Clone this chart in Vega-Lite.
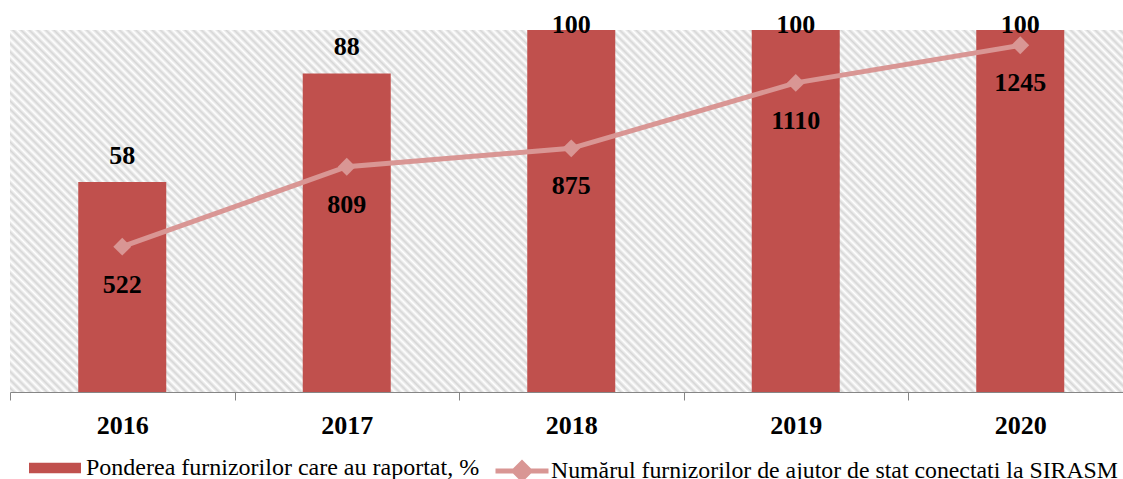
{
  "$schema": "https://vega.github.io/schema/vega-lite/v6.json",
  "width": 1122.5,
  "height": 362,
  "autosize": {"type": "none"},
  "padding": {"left": 10, "top": 30, "right": 0, "bottom": 87},
  "background": "white",
  "config": {"view": {"stroke": null, "fill": {"gradient": "linear", "x1": 0, "y1": 1, "x2": 1.3233, "y2": 0.5732, "stops": [
{"offset":0,"color":"#fff"},{"offset":0.0025,"color":"#d6d6d6"},{"offset":0.005,"color":"#fff"},{"offset":0.0075,"color":"#d6d6d6"},
{"offset":0.01,"color":"#fff"},{"offset":0.0125,"color":"#d6d6d6"},{"offset":0.015,"color":"#fff"},{"offset":0.0175,"color":"#d6d6d6"},
{"offset":0.02,"color":"#fff"},{"offset":0.0225,"color":"#d6d6d6"},{"offset":0.025,"color":"#fff"},{"offset":0.0275,"color":"#d6d6d6"},
{"offset":0.03,"color":"#fff"},{"offset":0.0325,"color":"#d6d6d6"},{"offset":0.035,"color":"#fff"},{"offset":0.0375,"color":"#d6d6d6"},
{"offset":0.04,"color":"#fff"},{"offset":0.0425,"color":"#d6d6d6"},{"offset":0.045,"color":"#fff"},{"offset":0.0475,"color":"#d6d6d6"},
{"offset":0.05,"color":"#fff"},{"offset":0.0525,"color":"#d6d6d6"},{"offset":0.055,"color":"#fff"},{"offset":0.0575,"color":"#d6d6d6"},
{"offset":0.06,"color":"#fff"},{"offset":0.0625,"color":"#d6d6d6"},{"offset":0.065,"color":"#fff"},{"offset":0.0675,"color":"#d6d6d6"},
{"offset":0.07,"color":"#fff"},{"offset":0.0725,"color":"#d6d6d6"},{"offset":0.075,"color":"#fff"},{"offset":0.0775,"color":"#d6d6d6"},
{"offset":0.08,"color":"#fff"},{"offset":0.0825,"color":"#d6d6d6"},{"offset":0.085,"color":"#fff"},{"offset":0.0875,"color":"#d6d6d6"},
{"offset":0.09,"color":"#fff"},{"offset":0.0925,"color":"#d6d6d6"},{"offset":0.095,"color":"#fff"},{"offset":0.0975,"color":"#d6d6d6"},
{"offset":0.1,"color":"#fff"},{"offset":0.1025,"color":"#d6d6d6"},{"offset":0.105,"color":"#fff"},{"offset":0.1075,"color":"#d6d6d6"},
{"offset":0.11,"color":"#fff"},{"offset":0.1125,"color":"#d6d6d6"},{"offset":0.115,"color":"#fff"},{"offset":0.1175,"color":"#d6d6d6"},
{"offset":0.12,"color":"#fff"},{"offset":0.1225,"color":"#d6d6d6"},{"offset":0.125,"color":"#fff"},{"offset":0.1275,"color":"#d6d6d6"},
{"offset":0.13,"color":"#fff"},{"offset":0.1325,"color":"#d6d6d6"},{"offset":0.135,"color":"#fff"},{"offset":0.1375,"color":"#d6d6d6"},
{"offset":0.14,"color":"#fff"},{"offset":0.1425,"color":"#d6d6d6"},{"offset":0.145,"color":"#fff"},{"offset":0.1475,"color":"#d6d6d6"},
{"offset":0.15,"color":"#fff"},{"offset":0.1525,"color":"#d6d6d6"},{"offset":0.155,"color":"#fff"},{"offset":0.1575,"color":"#d6d6d6"},
{"offset":0.16,"color":"#fff"},{"offset":0.1625,"color":"#d6d6d6"},{"offset":0.165,"color":"#fff"},{"offset":0.1675,"color":"#d6d6d6"},
{"offset":0.17,"color":"#fff"},{"offset":0.1725,"color":"#d6d6d6"},{"offset":0.175,"color":"#fff"},{"offset":0.1775,"color":"#d6d6d6"},
{"offset":0.18,"color":"#fff"},{"offset":0.1825,"color":"#d6d6d6"},{"offset":0.185,"color":"#fff"},{"offset":0.1875,"color":"#d6d6d6"},
{"offset":0.19,"color":"#fff"},{"offset":0.1925,"color":"#d6d6d6"},{"offset":0.195,"color":"#fff"},{"offset":0.1975,"color":"#d6d6d6"},
{"offset":0.2,"color":"#fff"},{"offset":0.2025,"color":"#d6d6d6"},{"offset":0.205,"color":"#fff"},{"offset":0.2075,"color":"#d6d6d6"},
{"offset":0.21,"color":"#fff"},{"offset":0.2125,"color":"#d6d6d6"},{"offset":0.215,"color":"#fff"},{"offset":0.2175,"color":"#d6d6d6"},
{"offset":0.22,"color":"#fff"},{"offset":0.2225,"color":"#d6d6d6"},{"offset":0.225,"color":"#fff"},{"offset":0.2275,"color":"#d6d6d6"},
{"offset":0.23,"color":"#fff"},{"offset":0.2325,"color":"#d6d6d6"},{"offset":0.235,"color":"#fff"},{"offset":0.2375,"color":"#d6d6d6"},
{"offset":0.24,"color":"#fff"},{"offset":0.2425,"color":"#d6d6d6"},{"offset":0.245,"color":"#fff"},{"offset":0.2475,"color":"#d6d6d6"},
{"offset":0.25,"color":"#fff"},{"offset":0.2525,"color":"#d6d6d6"},{"offset":0.255,"color":"#fff"},{"offset":0.2575,"color":"#d6d6d6"},
{"offset":0.26,"color":"#fff"},{"offset":0.2625,"color":"#d6d6d6"},{"offset":0.265,"color":"#fff"},{"offset":0.2675,"color":"#d6d6d6"},
{"offset":0.27,"color":"#fff"},{"offset":0.2725,"color":"#d6d6d6"},{"offset":0.275,"color":"#fff"},{"offset":0.2775,"color":"#d6d6d6"},
{"offset":0.28,"color":"#fff"},{"offset":0.2825,"color":"#d6d6d6"},{"offset":0.285,"color":"#fff"},{"offset":0.2875,"color":"#d6d6d6"},
{"offset":0.29,"color":"#fff"},{"offset":0.2925,"color":"#d6d6d6"},{"offset":0.295,"color":"#fff"},{"offset":0.2975,"color":"#d6d6d6"},
{"offset":0.3,"color":"#fff"},{"offset":0.3025,"color":"#d6d6d6"},{"offset":0.305,"color":"#fff"},{"offset":0.3075,"color":"#d6d6d6"},
{"offset":0.31,"color":"#fff"},{"offset":0.3125,"color":"#d6d6d6"},{"offset":0.315,"color":"#fff"},{"offset":0.3175,"color":"#d6d6d6"},
{"offset":0.32,"color":"#fff"},{"offset":0.3225,"color":"#d6d6d6"},{"offset":0.325,"color":"#fff"},{"offset":0.3275,"color":"#d6d6d6"},
{"offset":0.33,"color":"#fff"},{"offset":0.3325,"color":"#d6d6d6"},{"offset":0.335,"color":"#fff"},{"offset":0.3375,"color":"#d6d6d6"},
{"offset":0.34,"color":"#fff"},{"offset":0.3425,"color":"#d6d6d6"},{"offset":0.345,"color":"#fff"},{"offset":0.3475,"color":"#d6d6d6"},
{"offset":0.35,"color":"#fff"},{"offset":0.3525,"color":"#d6d6d6"},{"offset":0.355,"color":"#fff"},{"offset":0.3575,"color":"#d6d6d6"},
{"offset":0.36,"color":"#fff"},{"offset":0.3625,"color":"#d6d6d6"},{"offset":0.365,"color":"#fff"},{"offset":0.3675,"color":"#d6d6d6"},
{"offset":0.37,"color":"#fff"},{"offset":0.3725,"color":"#d6d6d6"},{"offset":0.375,"color":"#fff"},{"offset":0.3775,"color":"#d6d6d6"},
{"offset":0.38,"color":"#fff"},{"offset":0.3825,"color":"#d6d6d6"},{"offset":0.385,"color":"#fff"},{"offset":0.3875,"color":"#d6d6d6"},
{"offset":0.39,"color":"#fff"},{"offset":0.3925,"color":"#d6d6d6"},{"offset":0.395,"color":"#fff"},{"offset":0.3975,"color":"#d6d6d6"},
{"offset":0.4,"color":"#fff"},{"offset":0.4025,"color":"#d6d6d6"},{"offset":0.405,"color":"#fff"},{"offset":0.4075,"color":"#d6d6d6"},
{"offset":0.41,"color":"#fff"},{"offset":0.4125,"color":"#d6d6d6"},{"offset":0.415,"color":"#fff"},{"offset":0.4175,"color":"#d6d6d6"},
{"offset":0.42,"color":"#fff"},{"offset":0.4225,"color":"#d6d6d6"},{"offset":0.425,"color":"#fff"},{"offset":0.4275,"color":"#d6d6d6"},
{"offset":0.43,"color":"#fff"},{"offset":0.4325,"color":"#d6d6d6"},{"offset":0.435,"color":"#fff"},{"offset":0.4375,"color":"#d6d6d6"},
{"offset":0.44,"color":"#fff"},{"offset":0.4425,"color":"#d6d6d6"},{"offset":0.445,"color":"#fff"},{"offset":0.4475,"color":"#d6d6d6"},
{"offset":0.45,"color":"#fff"},{"offset":0.4525,"color":"#d6d6d6"},{"offset":0.455,"color":"#fff"},{"offset":0.4575,"color":"#d6d6d6"},
{"offset":0.46,"color":"#fff"},{"offset":0.4625,"color":"#d6d6d6"},{"offset":0.465,"color":"#fff"},{"offset":0.4675,"color":"#d6d6d6"},
{"offset":0.47,"color":"#fff"},{"offset":0.4725,"color":"#d6d6d6"},{"offset":0.475,"color":"#fff"},{"offset":0.4775,"color":"#d6d6d6"},
{"offset":0.48,"color":"#fff"},{"offset":0.4825,"color":"#d6d6d6"},{"offset":0.485,"color":"#fff"},{"offset":0.4875,"color":"#d6d6d6"},
{"offset":0.49,"color":"#fff"},{"offset":0.4925,"color":"#d6d6d6"},{"offset":0.495,"color":"#fff"},{"offset":0.4975,"color":"#d6d6d6"},
{"offset":0.5,"color":"#fff"},{"offset":0.5025,"color":"#d6d6d6"},{"offset":0.505,"color":"#fff"},{"offset":0.5075,"color":"#d6d6d6"},
{"offset":0.51,"color":"#fff"},{"offset":0.5125,"color":"#d6d6d6"},{"offset":0.515,"color":"#fff"},{"offset":0.5175,"color":"#d6d6d6"},
{"offset":0.52,"color":"#fff"},{"offset":0.5225,"color":"#d6d6d6"},{"offset":0.525,"color":"#fff"},{"offset":0.5275,"color":"#d6d6d6"},
{"offset":0.53,"color":"#fff"},{"offset":0.5325,"color":"#d6d6d6"},{"offset":0.535,"color":"#fff"},{"offset":0.5375,"color":"#d6d6d6"},
{"offset":0.54,"color":"#fff"},{"offset":0.5425,"color":"#d6d6d6"},{"offset":0.545,"color":"#fff"},{"offset":0.5475,"color":"#d6d6d6"},
{"offset":0.55,"color":"#fff"},{"offset":0.5525,"color":"#d6d6d6"},{"offset":0.555,"color":"#fff"},{"offset":0.5575,"color":"#d6d6d6"},
{"offset":0.56,"color":"#fff"},{"offset":0.5625,"color":"#d6d6d6"},{"offset":0.565,"color":"#fff"},{"offset":0.5675,"color":"#d6d6d6"},
{"offset":0.57,"color":"#fff"},{"offset":0.5725,"color":"#d6d6d6"},{"offset":0.575,"color":"#fff"},{"offset":0.5775,"color":"#d6d6d6"},
{"offset":0.58,"color":"#fff"},{"offset":0.5825,"color":"#d6d6d6"},{"offset":0.585,"color":"#fff"},{"offset":0.5875,"color":"#d6d6d6"},
{"offset":0.59,"color":"#fff"},{"offset":0.5925,"color":"#d6d6d6"},{"offset":0.595,"color":"#fff"},{"offset":0.5975,"color":"#d6d6d6"},
{"offset":0.6,"color":"#fff"},{"offset":0.6025,"color":"#d6d6d6"},{"offset":0.605,"color":"#fff"},{"offset":0.6075,"color":"#d6d6d6"},
{"offset":0.61,"color":"#fff"},{"offset":0.6125,"color":"#d6d6d6"},{"offset":0.615,"color":"#fff"},{"offset":0.6175,"color":"#d6d6d6"},
{"offset":0.62,"color":"#fff"},{"offset":0.6225,"color":"#d6d6d6"},{"offset":0.625,"color":"#fff"},{"offset":0.6275,"color":"#d6d6d6"},
{"offset":0.63,"color":"#fff"},{"offset":0.6325,"color":"#d6d6d6"},{"offset":0.635,"color":"#fff"},{"offset":0.6375,"color":"#d6d6d6"},
{"offset":0.64,"color":"#fff"},{"offset":0.6425,"color":"#d6d6d6"},{"offset":0.645,"color":"#fff"},{"offset":0.6475,"color":"#d6d6d6"},
{"offset":0.65,"color":"#fff"},{"offset":0.6525,"color":"#d6d6d6"},{"offset":0.655,"color":"#fff"},{"offset":0.6575,"color":"#d6d6d6"},
{"offset":0.66,"color":"#fff"},{"offset":0.6625,"color":"#d6d6d6"},{"offset":0.665,"color":"#fff"},{"offset":0.6675,"color":"#d6d6d6"},
{"offset":0.67,"color":"#fff"},{"offset":0.6725,"color":"#d6d6d6"},{"offset":0.675,"color":"#fff"},{"offset":0.6775,"color":"#d6d6d6"},
{"offset":0.68,"color":"#fff"},{"offset":0.6825,"color":"#d6d6d6"},{"offset":0.685,"color":"#fff"},{"offset":0.6875,"color":"#d6d6d6"},
{"offset":0.69,"color":"#fff"},{"offset":0.6925,"color":"#d6d6d6"},{"offset":0.695,"color":"#fff"},{"offset":0.6975,"color":"#d6d6d6"},
{"offset":0.7,"color":"#fff"},{"offset":0.7025,"color":"#d6d6d6"},{"offset":0.705,"color":"#fff"},{"offset":0.7075,"color":"#d6d6d6"},
{"offset":0.71,"color":"#fff"},{"offset":0.7125,"color":"#d6d6d6"},{"offset":0.715,"color":"#fff"},{"offset":0.7175,"color":"#d6d6d6"},
{"offset":0.72,"color":"#fff"},{"offset":0.7225,"color":"#d6d6d6"},{"offset":0.725,"color":"#fff"},{"offset":0.7275,"color":"#d6d6d6"},
{"offset":0.73,"color":"#fff"},{"offset":0.7325,"color":"#d6d6d6"},{"offset":0.735,"color":"#fff"},{"offset":0.7375,"color":"#d6d6d6"},
{"offset":0.74,"color":"#fff"},{"offset":0.7425,"color":"#d6d6d6"},{"offset":0.745,"color":"#fff"},{"offset":0.7475,"color":"#d6d6d6"},
{"offset":0.75,"color":"#fff"},{"offset":0.7525,"color":"#d6d6d6"},{"offset":0.755,"color":"#fff"},{"offset":0.7575,"color":"#d6d6d6"},
{"offset":0.76,"color":"#fff"},{"offset":0.7625,"color":"#d6d6d6"},{"offset":0.765,"color":"#fff"},{"offset":0.7675,"color":"#d6d6d6"},
{"offset":0.77,"color":"#fff"},{"offset":0.7725,"color":"#d6d6d6"},{"offset":0.775,"color":"#fff"},{"offset":0.7775,"color":"#d6d6d6"},
{"offset":0.78,"color":"#fff"},{"offset":0.7825,"color":"#d6d6d6"},{"offset":0.785,"color":"#fff"},{"offset":0.7875,"color":"#d6d6d6"},
{"offset":0.79,"color":"#fff"},{"offset":0.7925,"color":"#d6d6d6"},{"offset":0.795,"color":"#fff"},{"offset":0.7975,"color":"#d6d6d6"},
{"offset":0.8,"color":"#fff"},{"offset":0.8025,"color":"#d6d6d6"},{"offset":0.805,"color":"#fff"},{"offset":0.8075,"color":"#d6d6d6"},
{"offset":0.81,"color":"#fff"},{"offset":0.8125,"color":"#d6d6d6"},{"offset":0.815,"color":"#fff"},{"offset":0.8175,"color":"#d6d6d6"},
{"offset":0.82,"color":"#fff"},{"offset":0.8225,"color":"#d6d6d6"},{"offset":0.825,"color":"#fff"},{"offset":0.8275,"color":"#d6d6d6"},
{"offset":0.83,"color":"#fff"},{"offset":0.8325,"color":"#d6d6d6"},{"offset":0.835,"color":"#fff"},{"offset":0.8375,"color":"#d6d6d6"},
{"offset":0.84,"color":"#fff"},{"offset":0.8425,"color":"#d6d6d6"},{"offset":0.845,"color":"#fff"},{"offset":0.8475,"color":"#d6d6d6"},
{"offset":0.85,"color":"#fff"},{"offset":0.8525,"color":"#d6d6d6"},{"offset":0.855,"color":"#fff"},{"offset":0.8575,"color":"#d6d6d6"},
{"offset":0.86,"color":"#fff"},{"offset":0.8625,"color":"#d6d6d6"},{"offset":0.865,"color":"#fff"},{"offset":0.8675,"color":"#d6d6d6"},
{"offset":0.87,"color":"#fff"},{"offset":0.8725,"color":"#d6d6d6"},{"offset":0.875,"color":"#fff"},{"offset":0.8775,"color":"#d6d6d6"},
{"offset":0.88,"color":"#fff"},{"offset":0.8825,"color":"#d6d6d6"},{"offset":0.885,"color":"#fff"},{"offset":0.8875,"color":"#d6d6d6"},
{"offset":0.89,"color":"#fff"},{"offset":0.8925,"color":"#d6d6d6"},{"offset":0.895,"color":"#fff"},{"offset":0.8975,"color":"#d6d6d6"},
{"offset":0.9,"color":"#fff"},{"offset":0.9025,"color":"#d6d6d6"},{"offset":0.905,"color":"#fff"},{"offset":0.9075,"color":"#d6d6d6"},
{"offset":0.91,"color":"#fff"},{"offset":0.9125,"color":"#d6d6d6"},{"offset":0.915,"color":"#fff"},{"offset":0.9175,"color":"#d6d6d6"},
{"offset":0.92,"color":"#fff"},{"offset":0.9225,"color":"#d6d6d6"},{"offset":0.925,"color":"#fff"},{"offset":0.9275,"color":"#d6d6d6"},
{"offset":0.93,"color":"#fff"},{"offset":0.9325,"color":"#d6d6d6"},{"offset":0.935,"color":"#fff"},{"offset":0.9375,"color":"#d6d6d6"},
{"offset":0.94,"color":"#fff"},{"offset":0.9425,"color":"#d6d6d6"},{"offset":0.945,"color":"#fff"},{"offset":0.9475,"color":"#d6d6d6"},
{"offset":0.95,"color":"#fff"},{"offset":0.9525,"color":"#d6d6d6"},{"offset":0.955,"color":"#fff"},{"offset":0.9575,"color":"#d6d6d6"},
{"offset":0.96,"color":"#fff"},{"offset":0.9625,"color":"#d6d6d6"},{"offset":0.965,"color":"#fff"},{"offset":0.9675,"color":"#d6d6d6"},
{"offset":0.97,"color":"#fff"},{"offset":0.9725,"color":"#d6d6d6"},{"offset":0.975,"color":"#fff"},{"offset":0.9775,"color":"#d6d6d6"},
{"offset":0.98,"color":"#fff"},{"offset":0.9825,"color":"#d6d6d6"},{"offset":0.985,"color":"#fff"},{"offset":0.9875,"color":"#d6d6d6"},
{"offset":0.99,"color":"#fff"},{"offset":0.9925,"color":"#d6d6d6"},{"offset":0.995,"color":"#fff"},{"offset":0.9975,"color":"#d6d6d6"},
{"offset":1,"color":"#fff"}
  ]}}, "font": "Liberation Serif"},
  "data": {"values": [
    {"year": "2016", "pct": 58, "count": 522},
    {"year": "2017", "pct": 88, "count": 809},
    {"year": "2018", "pct": 100, "count": 875},
    {"year": "2019", "pct": 100, "count": 1110},
    {"year": "2020", "pct": 100, "count": 1245}
  ]},
  "encoding": {
    "x": {"field": "year", "type": "nominal",
      "scale": {"paddingInner": 0, "paddingOuter": 0},
      "axis": {"title": null, "labelAngle": 0, "labelFont": "Liberation Serif", "labelFontSize": 26, "labelFontWeight": "bold", "labelColor": "black", "labelBaseline": "alphabetic", "labelPadding": 33, "domainColor": "#868686", "tickColor": "#868686", "tickBand": "extent", "tickSize": 8, "domainWidth": 1, "tickWidth": 1}}
  },
  "layer": [
    {"mark": {"type": "bar", "color": "#C0504D", "width": {"band": 0.392}},
     "encoding": {
       "y": {"field": "pct", "type": "quantitative", "scale": {"domain": [0, 100], "nice": false}, "axis": null},
       "fill": {"datum": "Ponderea furnizorilor care au raportat, %", "type": "nominal", "scale": {"range": ["#C0504D"]},
         "legend": {"title": null, "orient": "none", "legendX": 19, "legendY": 412, "padding": 0, "symbolType": "M-1,-0.2H1V0.2H-1Z", "symbolSize": 2704, "symbolStrokeWidth": 0, "labelFont": "Liberation Serif", "labelFontSize": 24, "labelColor": "black", "labelOffset": 5, "labelLimit": 0}}
     }},
    {"mark": {"type": "text", "fontSize": 26, "fontWeight": "bold", "font": "Liberation Serif", "baseline": "alphabetic", "dy": 3, "color": "black"},
     "encoding": {
       "y": {"field": "pct", "type": "quantitative", "scale": {"domain": [-5.66, 94.06], "clamp": true, "nice": false, "zero": false}, "axis": null},
       "text": {"field": "pct", "type": "quantitative"}
     }},
    {"mark": {"type": "line", "color": "#D99694", "strokeWidth": 5},
     "encoding": {
       "y": {"field": "count", "type": "quantitative", "scale": {"domain": [0, 1300], "nice": false}, "axis": null},
       "stroke": {"datum": "Numărul furnizorilor de ajutor de stat conectati la SIRASM", "type": "nominal", "scale": {"range": ["#D99694"]},
         "legend": {"title": null, "orient": "none", "legendX": 483, "legendY": 412, "padding": 0, "symbolType": "M-1,0H1M-0.3,0L0,-0.3L0.3,0L0,0.3Z", "symbolSize": 2809, "symbolStrokeWidth": 5, "symbolFillColor": "#D99694", "labelFont": "Liberation Serif", "labelFontSize": 23.8, "labelColor": "black", "labelOffset": 0, "labelLimit": 0,
           "encode": {"symbols": {"update": {"fill": {"value": "#D99694"}, "stroke": {"value": "#D99694"}}}}}}
     }},
    {"mark": {"type": "point", "shape": "diamond", "size": 320, "filled": true, "color": "#D99694", "opacity": 1},
     "encoding": {
       "y": {"field": "count", "type": "quantitative", "scale": {"domain": [0, 1300], "nice": false}, "axis": null}
     }},
    {"mark": {"type": "text", "fontSize": 26, "fontWeight": "bold", "font": "Liberation Serif", "baseline": "alphabetic", "dy": 46, "color": "black"},
     "encoding": {
       "y": {"field": "count", "type": "quantitative", "scale": {"domain": [0, 1300], "nice": false}, "axis": null},
       "text": {"field": "count", "type": "quantitative"}
     }}
  ],
  "resolve": {"scale": {"y": "independent"}}
}
